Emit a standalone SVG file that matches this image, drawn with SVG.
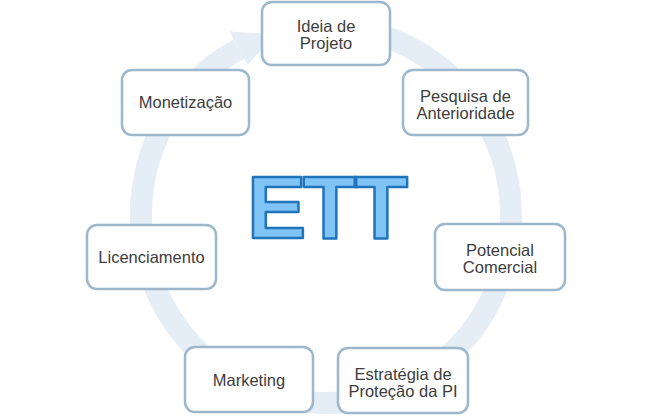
<svg xmlns="http://www.w3.org/2000/svg" width="654" height="417" viewBox="0 0 654 417">
<style>
.box{fill:#ffffff;stroke:#9db8cc;stroke-width:2.5}
.lbl{font-family:"Liberation Sans",Arial,sans-serif;font-size:16.5px;fill:#3d3d3d;text-anchor:middle}
.ring{fill:none;stroke:#e5edf6;stroke-width:22}
</style>
<rect width="654" height="417" fill="#ffffff"/>
<g id="connectors">
<path class="ring" d="M358.1,29.9 A185,188 0 1 1 239.1,49"/>
<polygon points="229.8,31.4 275,34.3 247.6,64.9" fill="#e5edf6"/>
</g>
<g id="title">
<text x="247" y="238" font-family="Liberation Sans,Arial,sans-serif" font-weight="bold" font-size="89" letter-spacing="-3.5" fill="#80c4f5" stroke="#1f74bb" stroke-width="2.5" stroke-linejoin="round">ETT</text>
</g>
<g id="n1"><rect class="box" x="262" y="2" width="128" height="63" rx="10"/><text class="lbl" x="326" y="32">Ideia de</text><text class="lbl" x="326" y="49">Projeto</text></g>
<g id="n2"><rect class="box" x="403" y="70" width="125" height="65" rx="10"/><text class="lbl" x="465.5" y="101.5">Pesquisa de</text><text class="lbl" x="465.5" y="119">Anterioridade</text></g>
<g id="n3"><rect class="box" x="435" y="224" width="130" height="66" rx="10"/><text class="lbl" x="500" y="255.5">Potencial</text><text class="lbl" x="500" y="273">Comercial</text></g>
<g id="n4"><rect class="box" x="338" y="348" width="130" height="65" rx="10"/><text class="lbl" x="403" y="379.5">Estratégia de</text><text class="lbl" x="403" y="397">Proteção da PI</text></g>
<g id="n5"><rect class="box" x="185" y="347" width="128" height="65" rx="10"/><text class="lbl" x="249" y="385.5">Marketing</text></g>
<g id="n6"><rect class="box" x="87" y="225" width="129" height="64" rx="10"/><text class="lbl" x="151.5" y="263">Licenciamento</text></g>
<g id="n7"><rect class="box" x="122" y="70" width="127" height="65" rx="10"/><text class="lbl" x="185.5" y="108">Monetização</text></g>
</svg>
